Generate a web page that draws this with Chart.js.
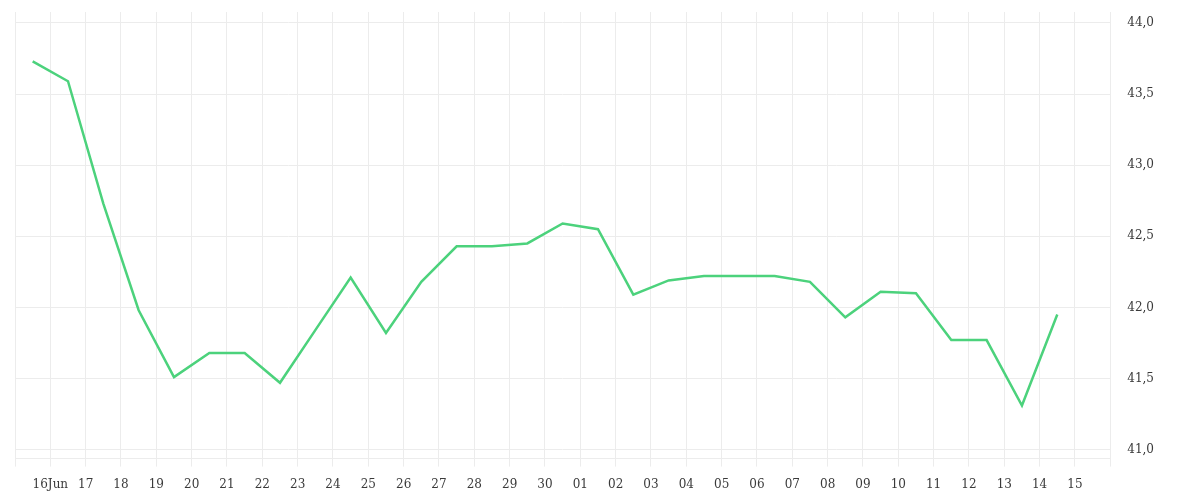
<!DOCTYPE html>
<html>
<head>
<meta charset="utf-8">
<script src="https://cdn.jsdelivr.net/npm/chart.js@4/dist/chart.umd.min.js"></script>
<style>
html, body { margin: 0; padding: 0; background: #fff; }
</style>
</head>
<body>
<canvas id="myChart" width="1200" height="500"></canvas>
<script>
// x axis runs in days from 15 Jun; one label per day boundary
const dayLabels = ['', '16Jun', '17', '18', '19', '20', '21', '22', '23', '24', '25', '26', '27', '28', '29', '30',
    '01', '02', '03', '04', '05', '06', '07', '08', '09', '10', '11', '12', '13', '14', '15', ''];

// daily values, one per day (15 Jun .. 14 Jul), plotted at midday
const values = [43.73, 43.59, 42.73, 41.98, 41.51, 41.68, 41.68, 41.47, 41.84, 42.21,
    41.82, 42.18, 42.43, 42.43, 42.45, 42.59, 42.55, 42.09, 42.19, 42.22,
    42.22, 42.22, 42.18, 41.93, 42.11, 42.10, 41.77, 41.77, 41.31, 41.95];

const yTicks = { min: 40.937, max: 44.077, step: 0.5 };

const gridColor = '#ececec';
const textColor = '#3a3a3a';
const font = { family: 'DejaVu Serif', size: 12 };

const points = values.map((v, i) => ({ x: i + 0.5, y: v }));

const ctx = document.getElementById('myChart').getContext('2d');
const chart = new Chart(ctx, {
    type: 'line',
    data: {
        datasets: [{
            data: points,
            borderColor: '#4cd27c',
            borderWidth: 2.5,
            pointRadius: 0,
            tension: 0,
            fill: false
        }]
    },
    options: {
        responsive: false,
        animation: false,
        layout: {
            padding: { left: 15, top: 12, right: 29, bottom: 0 }
        },
        plugins: {
            legend: { display: false },
            tooltip: { enabled: false }
        },
        scales: {
            x: {
                type: 'linear',
                min: 0,
                max: dayLabels.length - 1,
                afterFit: (scale) => { scale.height -= 3; },
                grid: { color: gridColor, tickLength: 8 },
                border: { color: gridColor },
                ticks: {
                    stepSize: 1,
                    autoSkip: false,
                    maxRotation: 0,
                    padding: 11,
                    color: textColor,
                    font: font,
                    callback: (v) => dayLabels[v] ?? ''
                }
            },
            y: {
                position: 'right',
                min: yTicks.min,
                max: yTicks.max,
                // big label padding would otherwise push the plot down
                afterFit: (scale) => { scale.paddingTop = 0; scale.paddingBottom = 0; },
                grid: { color: gridColor, drawTicks: false },
                border: { color: gridColor },
                ticks: {
                    stepSize: yTicks.step,
                    includeBounds: false,
                    padding: 17,
                    color: textColor,
                    font: font,
                    callback: (v) => v.toFixed(1).replace('.', ',')
                }
            }
        }
    }
});
</script>
</body>
</html>
